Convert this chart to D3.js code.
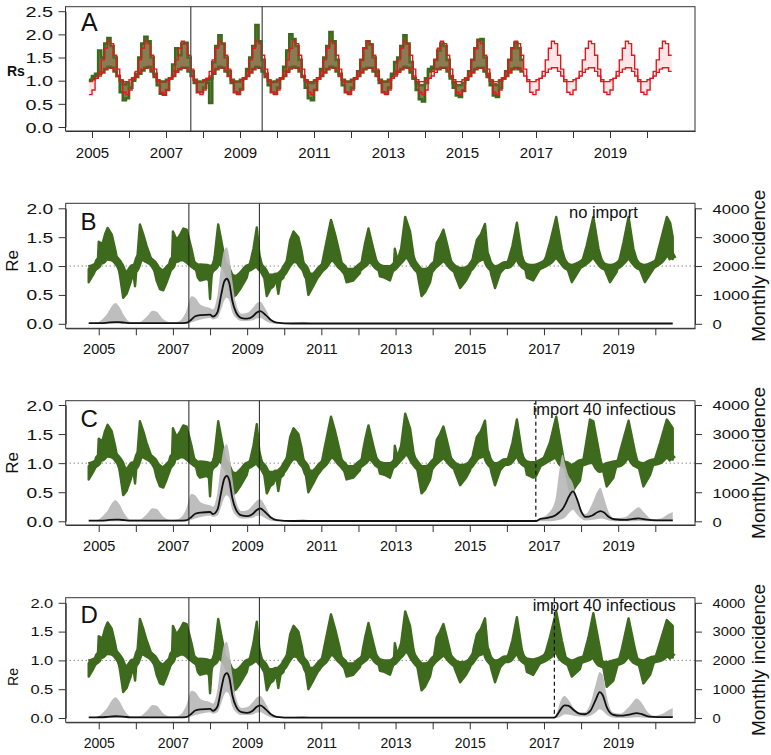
<!DOCTYPE html>
<html><head><meta charset="utf-8">
<script src="https://cdn.jsdelivr.net/npm/d3@7"></script>
<style>body{margin:0;background:#fff}</style>
</head><body><svg id="c" width="771" height="755"></svg>
<script>
// ---------------- DATA ----------------
const yearTicks = [2005,2006,2007,2008,2009,2010,2011,2012,2013,2014,2015,2016,2017,2018,2019,2020];
const yearLabels = [2005,2007,2009,2011,2013,2015,2017,2019];
const rsTicks = [0,0.5,1,1.5,2,2.5];
const reTicks = [0,0.5,1,1.5,2];
const incTicks = [0,1000,2000,3000,4000];

// Panel A: monthly Rs, first month = Dec 2004
const rsStartYear = 2004 + 11/12;
const rsModelBig = [
 0.70,
 0.80,1.05,1.20,1.45,1.70,1.85,1.80,1.55,1.25,0.98,0.75,0.70,
 0.80,1.05,1.20,1.45,1.70,1.85,1.80,1.55,1.25,0.98,0.75,0.70,
 0.80,1.05,1.20,1.45,1.70,1.85,1.80,1.55,1.25,0.98,0.75,0.70,
 0.80,1.05,1.20,1.45,1.70,1.85,1.80,1.55,1.25,0.98,0.75,0.70,
 0.80,1.05,1.20,1.45,1.70,1.85,1.80,1.55,1.25,0.98,0.75,0.70,
 0.80,1.05,1.20,1.45,1.70,1.85,1.80,1.55,1.25,0.98,0.75,0.70,
 0.80,1.05,1.20,1.45,1.70,1.85,1.80,1.55,1.25,0.98,0.75,0.70,
 0.80,1.05,1.20,1.45,1.70,1.85,1.80,1.55,1.25,0.98,0.75,0.70,
 0.80,1.05,1.20,1.45,1.70,1.85,1.80,1.55,1.25,0.98,0.75,0.70,
 0.80,1.05,1.20,1.45,1.70,1.85,1.80,1.55,1.25,0.98,0.75,0.70,
 0.80,1.05,1.20,1.45,1.70,1.85,1.80,1.55,1.25,0.98,0.75,0.70,
 0.80,1.05,1.20,1.45,1.70,1.85,1.80,1.55,1.25,0.98,0.75,0.70,
 0.80,1.05,1.20,1.45,1.70,1.85,1.80,1.55,1.25,0.98,0.75,0.70,
 0.80,1.05,1.20,1.45,1.70,1.85,1.80,1.55,1.25,0.98,0.75,0.70,
 0.80,1.05,1.20,1.45,1.70,1.85,1.80,1.55,1.25,0.98,0.75,0.70,
 0.80,1.05,1.20,1.45,1.70,1.85,1.80,1.55
];
const rsModelSmall = [
 0.98,
 1.02,1.05,1.10,1.18,1.25,1.28,1.28,1.20,1.10,1.02,0.98,0.98,
 1.02,1.05,1.10,1.18,1.25,1.28,1.28,1.20,1.10,1.02,0.98,0.98,
 1.02,1.05,1.10,1.18,1.25,1.28,1.28,1.20,1.10,1.02,0.98,0.98,
 1.02,1.05,1.10,1.18,1.25,1.28,1.28,1.20,1.10,1.02,0.98,0.98,
 1.02,1.05,1.10,1.18,1.25,1.28,1.28,1.20,1.10,1.02,0.98,0.98,
 1.02,1.05,1.10,1.18,1.25,1.28,1.28,1.20,1.10,1.02,0.98,0.98,
 1.02,1.05,1.10,1.18,1.25,1.28,1.28,1.20,1.10,1.02,0.98,0.98,
 1.02,1.05,1.10,1.18,1.25,1.28,1.28,1.20,1.10,1.02,0.98,0.98,
 1.02,1.05,1.10,1.18,1.25,1.28,1.28,1.20,1.10,1.02,0.98,0.98,
 1.02,1.05,1.10,1.18,1.25,1.28,1.28,1.20,1.10,1.02,0.98,0.98,
 1.02,1.05,1.10,1.18,1.25,1.28,1.28,1.20,1.10,1.02,0.98,0.98,
 1.02,1.05,1.10,1.18,1.25,1.28,1.28,1.20,1.10,1.02,0.98,0.98,
 1.02,1.05,1.10,1.18,1.25,1.28,1.28,1.20,1.10,1.02,0.98,0.98,
 1.02,1.05,1.10,1.18,1.25,1.28,1.28,1.20,1.10,1.02,0.98,0.98,
 1.02,1.05,1.10,1.18,1.25,1.28,1.28,1.20,1.10,1.02,0.98,0.98,
 1.02,1.05,1.10,1.18,1.25,1.28,1.28,1.20
];
const rsObsBig = [
 1.02,
 1.10,1.15,1.65,1.50,1.80,1.92,1.75,1.50,1.10,0.75,0.58,0.62,
 0.85,1.05,1.15,1.50,1.80,1.95,1.85,1.50,1.15,0.90,0.72,0.70,
 0.80,1.05,1.35,1.70,1.55,1.80,1.82,1.50,1.20,0.95,0.75,0.75,
 0.85,0.95,0.52,1.40,1.75,1.98,1.80,1.50,1.20,0.95,0.75,0.72,
 0.82,1.05,1.25,1.50,1.75,2.20,1.85,1.45,1.15,0.90,0.75,0.72,
 0.85,1.05,1.30,1.65,2.00,1.90,1.75,1.45,1.10,0.85,0.62,0.58,
 0.80,1.05,1.25,1.50,1.75,2.05,1.85,1.45,1.15,0.90,0.75,0.72,
 0.85,1.05,1.20,1.45,1.70,1.85,1.78,1.50,1.20,0.95,0.75,0.72,
 0.85,1.15,1.40,1.50,1.75,1.98,1.80,1.40,1.05,0.80,0.60,0.55,
 0.95,1.25,1.30,1.45,1.65,1.80,1.75,1.45,1.10,0.85,0.68,0.65,
 0.78,1.05,1.20,1.45,1.70,1.88,1.90,1.50,1.15,0.90,0.68,0.65,
 0.85,1.05,1.20,1.45,1.70,1.82,1.70,1.45
];
const rsObsSmall = [
 1.00,
 1.05,1.10,1.15,1.18,1.25,1.30,1.28,1.20,1.10,1.00,0.92,0.95,
 0.85,1.00,1.08,1.15,1.22,1.28,1.30,1.20,1.08,1.00,0.98,0.98,
 1.02,1.05,1.10,1.20,1.25,1.28,1.28,1.20,1.10,1.02,0.98,0.97,
 1.00,1.02,1.05,1.15,1.25,1.30,1.28,1.20,1.10,1.02,0.98,0.98,
 1.02,1.05,1.10,1.18,1.25,1.30,1.28,1.20,1.08,1.00,0.97,0.98,
 1.02,1.05,1.10,1.20,1.28,1.30,1.28,1.20,1.08,1.00,0.95,0.95,
 1.00,1.05,1.10,1.18,1.25,1.30,1.28,1.20,1.10,1.02,0.98,0.98,
 1.02,1.05,1.10,1.18,1.25,1.28,1.28,1.20,1.10,1.02,0.98,0.98,
 1.02,1.10,1.15,1.20,1.25,1.30,1.28,1.18,1.05,0.95,0.90,0.90,
 1.05,1.20,1.25,1.25,1.25,1.28,1.28,1.20,1.05,0.95,0.90,0.90,
 0.95,1.02,1.10,1.18,1.25,1.28,1.28,1.20,1.08,1.00,0.92,0.90,
 1.00,1.05,1.10,1.18,1.25,1.28,1.25,1.20
];
const eventYearsA = [2007.67, 2009.6];
const eventYearsRe = [2007.43, 2009.33];
const importYearC = 2016.78;
const importYearD = 2017.28;

// Panels B-D: Re ensemble envelope (shared until late 2016)
const reTimeBase = [
 2004.73,2004.85,2004.97,
 2005.0,2005.1,2005.17,2005.24,2005.35,2005.44,2005.53,2005.58,2005.66,2005.75,2005.85,2005.93,2005.98,
 2006.03,2006.11,2006.2,2006.29,2006.4,2006.47,2006.56,2006.65,2006.74,2006.83,2006.92,2006.97,
 2007.0,2007.1,2007.2,2007.28,2007.37,2007.5,2007.6,2007.67,2007.73,2007.91,2007.97,
 2008.0,2008.04,2008.13,2008.22,2008.3,2008.36,2008.45,2008.52,2008.58,2008.7,2008.81,2008.9,2008.99,
 2009.08,2009.17,2009.26,2009.33,2009.44,2009.53,2009.62,2009.71,2009.78,2009.84,2009.9,2009.98,
 2010.07,2010.16,2010.25,2010.38,2010.47,2010.56,2010.65,2010.78,2010.9,2010.96,
 2011.1,2011.18,2011.26,2011.37,2011.5,2011.58,2011.68,2011.86,
 2012.04,2012.12,2012.18,2012.27,2012.4,2012.5,2012.58,2012.7,2012.85,2012.95,2012.98,
 2013.05,2013.15,2013.26,2013.39,2013.48,2013.57,2013.7,2013.8,2013.93,
 2014.02,2014.11,2014.2,2014.29,2014.38,2014.51,2014.6,2014.74,2014.9,
 2015.01,2015.1,2015.19,2015.3,2015.41,2015.5,2015.58,2015.68,2015.82,2015.95,
 2016.04,2016.15,2016.27,2016.4,2016.48,2016.54,2016.71
];
const reBigBase = [
 0.72,0.85,1.0,
 1.42,1.38,1.55,1.66,1.55,1.3,1.0,0.8,0.45,0.52,0.7,0.88,0.65,
 1.05,1.72,1.55,1.35,1.15,1.0,0.75,0.6,0.58,0.72,0.88,1.0,
 1.6,1.45,1.55,1.65,1.63,1.3,1.0,0.8,0.75,0.78,0.75,
 0.43,0.8,1.2,1.72,1.45,1.25,0.9,0.6,0.45,0.5,0.6,0.7,0.8,
 1.05,1.3,1.67,1.2,0.9,0.48,0.6,0.65,0.78,0.52,0.75,0.8,
 1.1,1.45,1.6,1.5,1.25,0.9,0.5,0.65,0.8,0.85,
 1.3,1.55,1.8,1.55,1.2,0.95,0.72,0.75,
 0.88,1.2,1.4,1.65,1.3,1.05,0.82,0.8,0.75,0.95,1.3,
 1.1,1.3,1.85,1.6,1.2,0.95,0.48,0.55,0.72,
 1.0,1.4,1.5,1.63,1.4,1.05,0.85,0.62,0.75,
 0.88,1.2,1.45,1.55,1.73,1.1,0.85,0.62,0.88,0.98,
 1.1,1.35,1.75,1.2,1.0,0.8,0.75
];
const reSmallBase = [
 0.95,0.97,1.02,
 1.08,1.1,1.15,1.16,1.15,1.12,1.05,1.0,0.88,0.85,0.9,0.97,0.95,
 1.02,1.15,1.15,1.12,1.08,1.04,0.95,0.9,0.88,0.92,0.98,1.02,
 1.1,1.12,1.15,1.15,1.12,1.05,1.0,0.97,0.98,0.97,0.95,
 0.92,0.95,1.0,1.12,1.08,1.03,0.95,0.85,0.8,0.78,0.82,0.88,0.95,
 0.98,1.02,1.08,1.0,0.92,0.82,0.8,0.8,0.82,0.8,0.85,0.9,
 1.0,1.08,1.12,1.1,1.02,0.95,0.82,0.82,0.88,0.93,
 1.02,1.1,1.15,1.12,1.02,0.97,0.9,0.9,
 0.98,1.02,1.05,1.12,1.08,1.0,0.97,0.95,0.95,0.98,1.0,
 1.05,1.12,1.2,1.15,1.05,0.97,0.9,0.9,0.93,
 1.0,1.05,1.1,1.15,1.1,1.0,0.95,0.92,0.93,
 0.97,1.05,1.12,1.15,1.2,1.05,0.98,0.95,0.97,1.02,
 1.02,1.1,1.2,1.05,1.0,0.98,0.97
];
const reTimeTailB = [2016.89,2017.05,2017.16,2017.33,2017.48,2017.61,2017.75,2017.97,2018.15,2018.33,2018.47,2018.6,2018.78,2018.96,2019.14,2019.28,2019.41,2019.55,2019.72,2019.95,2020.13,2020.31,2020.4,2020.47];
const reBigTailB = [0.95,1.15,1.4,1.85,1.3,1.0,0.72,0.95,1.35,1.85,1.3,1.0,0.72,0.9,1.4,1.85,1.3,1.0,0.72,0.95,1.4,1.85,1.75,1.5];
const reSmallTailB = [1.0,1.05,1.1,1.2,1.1,1.0,0.97,1.02,1.1,1.2,1.1,1.0,0.97,1.0,1.1,1.2,1.1,1.0,0.97,1.02,1.1,1.22,1.2,1.12];
const reTimeTailC = [2016.78,2016.89,2017.16,2017.33,2017.48,2017.6,2017.72,2017.85,2017.97,2018.1,2018.24,2018.33,2018.51,2018.69,2018.87,2019.05,2019.28,2019.45,2019.68,2019.86,2020.13,2020.31,2020.47];
const reBigTailC = [0.77,0.92,1.35,1.8,1.25,0.8,0.45,0.6,0.7,1.2,1.75,1.72,1.1,0.6,0.75,1.2,1.73,1.2,0.6,0.8,1.35,1.75,1.6];
const reSmallTailC = [0.97,1.0,1.1,1.15,1.0,0.97,0.92,0.95,1.0,1.02,1.05,1.05,0.9,0.95,0.98,1.0,1.15,1.0,0.95,1.0,1.05,1.15,1.06];
const reTimeTailD = [2016.89,2017.05,2017.16,2017.33,2017.48,2017.62,2017.75,2017.97,2018.2,2018.33,2018.51,2018.69,2018.87,2019.1,2019.28,2019.45,2019.68,2019.86,2020.17,2020.31,2020.47];
const reBigTailD = [0.95,1.15,1.4,1.85,1.35,0.95,0.72,0.85,1.4,1.82,1.2,0.54,0.65,1.2,1.73,1.2,0.6,0.75,1.4,1.7,1.6];
const reSmallTailD = [1.0,1.05,1.1,1.21,1.05,0.98,0.95,1.0,1.05,1.1,0.95,0.92,0.95,1.0,1.12,1.0,0.95,1.0,1.05,1.12,1.05];

// Monthly incidence: upper / lower band and median
const incTimeBase = [2004.73,2004.95,2005.2,2005.45,2005.55,2005.7,2005.85,2006.1,2006.3,2006.45,2006.55,2006.75,2006.95,2007.15,2007.35,2007.5,2007.6,2007.75,2008.0,2008.08,2008.2,2008.3,2008.38,2008.45,2008.52,2008.6,2008.7,2008.85,2009.0,2009.15,2009.25,2009.35,2009.5,2009.65,2009.8,2010.2,2010.5,2010.7,2011.0,2016.7];
const incHiBase = [20,40,300,720,600,250,60,60,250,450,430,150,50,80,400,950,900,650,550,500,1000,2000,2550,2650,2300,1500,700,350,380,550,700,760,500,150,50,40,70,30,10,10];
const incMedBase = [20,25,35,60,55,40,25,20,22,25,25,22,20,20,30,150,260,300,320,250,400,1000,1450,1560,1400,800,400,200,180,250,380,440,300,120,40,10,10,10,10,10];
const incLoBase = [0,0,0,0,0,0,0,0,0,0,0,0,0,0,0,50,100,150,200,150,200,500,800,900,800,400,200,100,100,120,180,200,100,20,0,0,0,0,0,0];
const incTimeTailB = [2016.78,2020.47];
const incHiTailB = [10,10];
const incMedTailB = [10,10];
const incLoTailB = [0,0];
const incTimeTailC = [2016.78,2016.9,2017.1,2017.3,2017.42,2017.5,2017.58,2017.65,2017.78,2017.88,2018.0,2018.12,2018.3,2018.45,2018.52,2018.62,2018.75,2018.9,2019.2,2019.4,2019.55,2019.7,2019.9,2020.15,2020.35,2020.47];
const incHiTailC = [10,100,250,700,1800,2300,1900,1600,1300,800,350,250,600,1050,1150,800,300,100,150,350,480,300,80,100,250,320];
const incMedTailC = [10,80,120,200,320,420,600,800,1030,800,350,150,200,320,350,300,150,70,50,80,100,70,40,30,30,30];
const incLoTailC = [0,0,0,20,50,80,150,250,400,250,100,30,50,80,100,80,30,0,0,0,10,0,0,0,0,0];
const incTimeTailD = [2016.78,2017.28,2017.35,2017.45,2017.55,2017.65,2017.8,2017.95,2018.1,2018.25,2018.4,2018.5,2018.58,2018.7,2018.85,2019.05,2019.3,2019.5,2019.62,2019.8,2019.95,2020.2,2020.4,2020.47];
const incHiTailD = [10,10,200,600,760,650,350,200,200,500,1200,1600,1500,700,200,150,400,680,550,200,80,150,300,350];
const incMedTailD = [10,10,100,300,440,430,280,150,130,250,650,900,800,350,120,80,120,170,140,60,40,30,30,30];
const incLoTailD = [0,0,0,50,120,120,80,50,50,80,200,300,250,100,20,0,10,30,20,0,0,0,0,0];

// ---------------- DRAWING ----------------
const FONT = "'Liberation Sans', Arial, Helvetica, sans-serif";
const svg = d3.select('#c').style('font-family', FONT);
const AX = '#333';
const GREEN = '#3d6a1c';

function styleAxis(a) {
  a.attr('font-family', null).attr('font-size', null);
  a.selectAll('path,line').attr('stroke', AX).attr('stroke-width', 1);
  a.selectAll('text').attr('fill', '#111').style('font-family', FONT);
}
function leftAxis(g, y, ticks, x0, fs, sx, fmt) {
  const a = g.append('g').attr('transform', `translate(${x0},0)`)
    .call(d3.axisLeft(y).tickValues(ticks).tickSize(7).tickSizeOuter(0).tickFormat(fmt));
  styleAxis(a);
  a.selectAll('text').attr('x', -12.5 / sx).attr('dy', '0.36em')
    .attr('transform', `scale(${sx},1)`).style('font-size', fs + 'px');
}
function rightAxis(g, y, ticks, x0, fs, sx) {
  const a = g.append('g').attr('transform', `translate(${x0},0)`)
    .call(d3.axisRight(y).tickValues(ticks).tickSize(7).tickSizeOuter(0).tickFormat(d3.format('d')));
  styleAxis(a);
  a.selectAll('text').attr('x', 17.5 / sx).attr('dy', '0.36em')
    .attr('transform', `scale(${sx},1)`).style('font-size', fs + 'px');
}
function bottomAxis(g, x, y0, fs, base) {
  const a = g.append('g').attr('transform', `translate(0,${y0})`)
    .call(d3.axisBottom(x).tickValues(yearTicks).tickSize(7).tickSizeOuter(0)
      .tickFormat(d => yearLabels.includes(d) ? String(d) : ''));
  styleAxis(a);
  a.selectAll('text').attr('y', base).attr('dy', null).style('font-size', fs + 'px');
}
function box(g, x0, y0, x1, y1) {
  g.append('rect').attr('x', x0).attr('y', y0).attr('width', x1 - x0).attr('height', y1 - y0)
    .attr('fill', 'none').attr('stroke', AX).attr('stroke-width', 1);
}
let clipN = 0;
function clip(g, x0, y0, x1, y1) {
  const id = 'clip' + (clipN++);
  svg.append('clipPath').attr('id', id).append('rect')
    .attr('x', x0).attr('y', y0).attr('width', x1 - x0).attr('height', y1 - y0);
  return g.append('g').attr('clip-path', `url(#${id})`);
}

// ---- Panel A ----
(function () {
  const L = 65.5, R = 695, T = 6.7, B = 131;
  const x = d3.scaleLinear().domain([2004.284, 2021.297]).range([L, R]);
  const y = d3.scaleLinear().domain([0, 2.5]).range([127, 11.2]);
  const g = svg.append('g');
  const c = clip(g, L, T, R, B);
  const steps = (big, small) => {
    const d = big.map((b, i) => ({ t: rsStartYear + i / 12, b: b, s: small[i] }));
    d.push({ t: rsStartYear + big.length / 12, b: big[big.length - 1], s: small[small.length - 1] });
    return d;
  };
  const obs = steps(rsObsBig, rsObsSmall);
  const mod = steps(rsModelBig, rsModelSmall);
  const area = d3.area().curve(d3.curveStepAfter).x(d => x(d.t)).y0(d => y(d.s)).y1(d => y(d.b));
  const lineB = d3.line().curve(d3.curveStepAfter).x(d => x(d.t)).y(d => y(d.b));
  const lineS = d3.line().curve(d3.curveStepAfter).x(d => x(d.t)).y(d => y(d.s));
  c.append('path').datum(obs).attr('d', area).attr('fill', '#7a8050');
  [lineB, lineS].forEach(l => c.append('path').datum(obs).attr('d', l)
    .attr('fill', 'none').attr('stroke', '#3c6a1c').attr('stroke-width', 2.6));
  c.append('path').datum(mod).attr('d', area).attr('fill', 'rgba(245,90,100,0.15)');
  [lineB, lineS].forEach(l => c.append('path').datum(mod).attr('d', l)
    .attr('fill', 'none').attr('stroke', '#e3171e').attr('stroke-width', 1.4));
  eventYearsA.forEach(v => g.append('line').attr('x1', x(v)).attr('x2', x(v)).attr('y1', T).attr('y2', B)
    .attr('stroke', '#555').attr('stroke-width', 1.3));
  box(g, L, T, R, B);
  leftAxis(g, y, rsTicks, L, 14.5, 1.37, d3.format('.1f'));
  bottomAxis(g, x, B, 15, 27);
  g.append('text').attr('x', 81).attr('y', 30.5).text('A').style('font-size', '25px').attr('fill', '#111');
  g.append('text').attr('x', 7).attr('y', 76).text('Rs').style('font-size', '14px').style('font-weight', 'bold').attr('fill', '#111');
})();

// ---- Panels B, C, D ----
function rePanel(cfg) {
  const L = 65.7, R = 695;
  const x = d3.scaleLinear().domain([2004.11, 2021.07]).range([L, R]);
  const y = d3.scaleLinear().domain([0, 2]).range([cfg.y0, cfg.y2]);
  const yi = d3.scaleLinear().domain([0, 4000]).range([cfg.y0, cfg.y2]);
  const g = svg.append('g');
  const c = clip(g, L, cfg.top, R, cfg.bottom);
  // dotted Re = 1
  c.append('line').attr('x1', L).attr('x2', R).attr('y1', y(1)).attr('y2', y(1))
    .attr('stroke', '#555').attr('stroke-width', 1).attr('stroke-dasharray', '1,3');
  const re = cfg.reT.map((t, i) => ({ t: t, b: cfg.reBig[i], s: cfg.reSmall[i] }));
  c.append('path').datum(re)
    .attr('d', d3.area().x(d => x(d.t)).y0(d => y(d.s)).y1(d => y(d.b)))
    .attr('fill', GREEN).attr('stroke', GREEN).attr('stroke-width', 2.4).attr('stroke-linejoin', 'round');
  // bundle of ensemble lines around the central trajectory
  c.append('path').datum(re)
    .attr('d', d3.line().curve(d3.curveMonotoneX).x(d => x(d.t)).y(d => y(d.s)))
    .attr('fill', 'none').attr('stroke', GREEN).attr('stroke-width', 8).attr('stroke-linejoin', 'round').attr('stroke-linecap', 'butt');
  const inc = cfg.incT.map((t, i) => ({ t: t, hi: cfg.incHi[i], lo: cfg.incLo[i], m: cfg.incMed[i] }));
  c.append('path').datum(inc)
    .attr('d', d3.area().curve(d3.curveMonotoneX).x(d => x(d.t)).y0(d => yi(d.lo)).y1(d => yi(d.hi)))
    .attr('fill', '#b9b9b9').attr('fill-opacity', 0.92);
  c.append('path').datum(inc)
    .attr('d', d3.line().curve(d3.curveMonotoneX).x(d => x(d.t)).y(d => yi(d.m)))
    .attr('fill', 'none').attr('stroke', '#111').attr('stroke-width', 1.8);
  eventYearsRe.forEach(v => g.append('line').attr('x1', x(v)).attr('x2', x(v)).attr('y1', cfg.top).attr('y2', cfg.bottom)
    .attr('stroke', '#222').attr('stroke-width', 1));
  if (cfg.importYear) {
    g.append('line').attr('x1', x(cfg.importYear)).attr('x2', x(cfg.importYear))
      .attr('y1', cfg.top).attr('y2', y(0)).attr('stroke', '#111').attr('stroke-width', 1.2)
      .attr('stroke-dasharray', '4,3');
  }
  box(g, L, cfg.top, R, cfg.bottom);
  leftAxis(g, y, reTicks, L, cfg.yFs, cfg.ySx, d3.format('.1f'));
  rightAxis(g, yi, incTicks, R, cfg.rFs, 1.23);
  bottomAxis(g, x, cfg.bottom, cfg.xFs, 26);
  g.append('text').attr('x', 80.5).attr('y', cfg.letterY).text(cfg.letter).style('font-size', '24px').attr('fill', '#111');
  g.append('text').attr('x', cfg.noteX).attr('y', cfg.noteY).text(cfg.note).style('font-size', '16.5px').attr('fill', '#111');
  const mid = (cfg.top + cfg.bottom) / 2;
  g.append('text').attr('transform', `translate(${cfg.reX},${cfg.reY}) rotate(-90)`).attr('text-anchor', 'middle')
    .text('Re').style('font-size', cfg.reFs + 'px').attr('fill', '#111');
  g.append('text').attr('transform', `translate(765,${mid}) rotate(-90)`).attr('text-anchor', 'middle')
    .text('Monthly incidence').style('font-size', '19px').attr('fill', '#111');
}

rePanel({ top: 203.3, bottom: 328.3, y0: 323.8, y2: 208.3, letter: 'B', letterY: 229.5,
  note: 'no import', noteX: 569, noteY: 217.5, importYear: null,
  reT: reTimeBase.concat(reTimeTailB), reBig: reBigBase.concat(reBigTailB), reSmall: reSmallBase.concat(reSmallTailB),
  incT: incTimeBase.concat(incTimeTailB), incHi: incHiBase.concat(incHiTailB), incLo: incLoBase.concat(incLoTailB), incMed: incMedBase.concat(incMedTailB),
  yFs: 14, ySx: 1.37, rFs: 13.5, xFs: 14.5, reFs: 17, reX: 18, reY: 261 });

rePanel({ top: 400.7, bottom: 525, y0: 521.3, y2: 405, letter: 'C', letterY: 426.5,
  note: 'import 40 infectious', noteX: 532.7, noteY: 414.5, importYear: importYearC,
  reT: reTimeBase.concat(reTimeTailC), reBig: reBigBase.concat(reBigTailC), reSmall: reSmallBase.concat(reSmallTailC),
  incT: incTimeBase.concat(incTimeTailC), incHi: incHiBase.concat(incHiTailC), incLo: incLoBase.concat(incLoTailC), incMed: incMedBase.concat(incMedTailC),
  yFs: 14, ySx: 1.37, rFs: 13.5, xFs: 14.5, reFs: 17, reX: 18, reY: 463 });

rePanel({ top: 597.7, bottom: 722.3, y0: 718, y2: 602.8, letter: 'D', letterY: 623,
  note: 'import 40 infectious', noteX: 532.7, noteY: 611, importYear: importYearD,
  reT: reTimeBase.concat(reTimeTailD), reBig: reBigBase.concat(reBigTailD), reSmall: reSmallBase.concat(reSmallTailD),
  incT: incTimeBase.concat(incTimeTailD), incHi: incHiBase.concat(incHiTailD), incLo: incLoBase.concat(incLoTailD), incMed: incMedBase.concat(incMedTailD),
  yFs: 12, ySx: 1.37, rFs: 12, xFs: 14, reFs: 14, reX: 18, reY: 677 });
</script>
</body></html>
